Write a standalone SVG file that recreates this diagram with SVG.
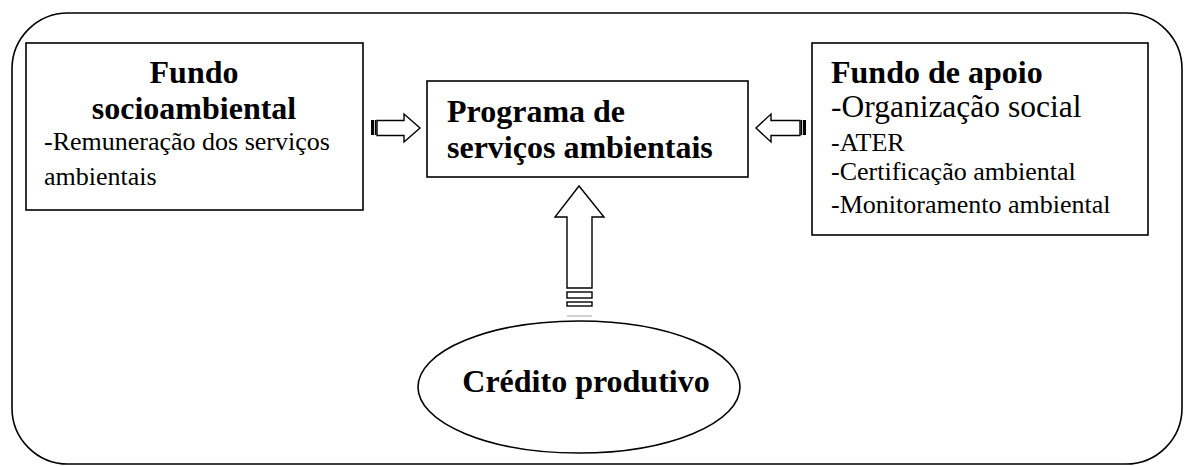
<svg xmlns="http://www.w3.org/2000/svg" width="1184" height="466" viewBox="0 0 1184 466">
<style>
.box{fill:#fff;stroke:#000;stroke-width:1.6}
.arr{fill:#fff;stroke:#000;stroke-width:1.4;stroke-linejoin:miter}
.b{font-family:"Liberation Serif",serif;font-weight:bold;font-size:32px;fill:#000}
.r{font-family:"Liberation Serif",serif;font-size:26px;fill:#000}
.rl{font-family:"Liberation Serif",serif;font-size:31.5px;fill:#000}
</style>
<rect width="1184" height="466" fill="#fff"/>
<rect x="12" y="13" width="1170" height="451" rx="56" ry="56" fill="none" stroke="#000" stroke-width="1.6"/>
<g id="fundo-socioambiental">
<rect class="box" x="26" y="43" width="337" height="167"/>
<text class="b" x="194" y="83" text-anchor="middle">Fundo</text>
<text class="b" x="194" y="119" text-anchor="middle">socioambiental</text>
<text class="r" x="44" y="150">-Remuneração dos serviços</text>
<text class="r" x="44" y="185">ambientais</text>
</g>
<g id="programa">
<rect class="box" x="427" y="81" width="321" height="96"/>
<text class="b" x="447" y="122">Programa de</text>
<text class="b" x="447" y="158">serviços ambientais</text>
</g>
<g id="fundo-apoio">
<rect class="box" x="812" y="43" width="336" height="192"/>
<text class="b" x="831" y="83">Fundo de apoio</text>
<text class="rl" x="831" y="117">-Organização social</text>
<text class="r" x="831" y="151">-ATER</text>
<text class="r" x="831" y="180">-Certificação ambiental</text>
<text class="r" x="831" y="213">-Monitoramento ambiental</text>
</g>
<g id="credito">
<ellipse class="box" cx="579" cy="387" rx="161" ry="66"/>
<text class="b" x="586" y="392" text-anchor="middle">Crédito produtivo</text>
</g>
<g id="connectors">
<g id="arrow-left-to-center">
<rect x="371" y="120" width="3" height="15" fill="#000"/>
<rect x="374.8" y="120" width="1.6" height="15" fill="#000"/>
<path class="arr" d="M377,120.5 H404 V114 L420,128 L404,142 V135.5 H377 Z"/>
</g>
<g id="arrow-right-to-center">
<rect x="803" y="120" width="3" height="15" fill="#000"/>
<rect x="800.6" y="120" width="1.6" height="15" fill="#000"/>
<path class="arr" d="M800,120.5 H771 V114 L756,128 L771,142 V135.5 H800 Z"/>
</g>
<g id="arrow-bottom-to-center">
<path class="arr" d="M567,288 V217 H555 L579,186 L604,217 H592 V288 Z"/>
<rect class="arr" x="567" y="292" width="25" height="6"/>
<rect class="arr" x="567" y="302" width="25" height="4"/>
<rect x="567" y="315" width="25" height="2" fill="#d0d0d0"/>
</g>
</g>
</svg>
